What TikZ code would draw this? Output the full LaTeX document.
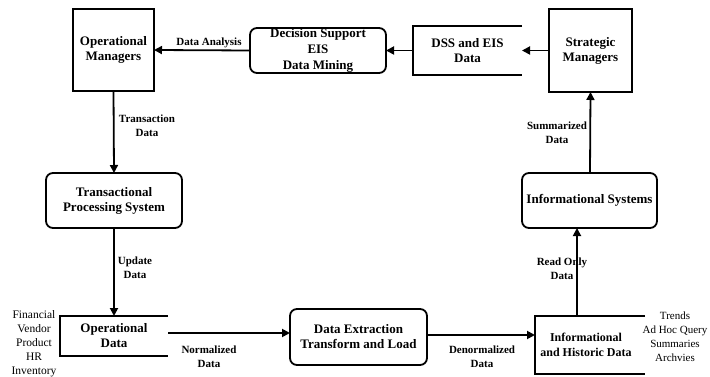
\documentclass[tikz,border=0pt]{standalone}
\usepackage{fontspec}
\setmainfont{Liberation Serif}
\usetikzlibrary{arrows.meta}
\begin{document}
\begin{tikzpicture}[x=1pt,y=-1pt,
  every node/.style={inner sep=0pt,outer sep=0pt,align=center},
  boxtext/.style={font=\fontsize{13}{15}\selectfont\bfseries},
  sqbox/.style={boxtext,draw,line width=1.8pt,rectangle},
  rbox/.style={boxtext,draw,line width=1.8pt,rectangle,rounded corners=7pt},
  openbox/.style={boxtext,rectangle},
  openline/.style={line width=1.8pt},
  lbl/.style={font=\fontsize{11}{14}\selectfont\bfseries},
  side/.style={font=\fontsize{11.5}{14}\selectfont},
  arr/.style={line width=1.8pt,-{Triangle[length=8pt,width=8pt]}}]
\useasboundingbox (0,0) rectangle (710,377);
\fill[white] (0,0) rectangle (710,377);

\node[sqbox,minimum width=81pt,minimum height=82pt] (opmgr) at (113.5,50) {Operational\\Managers};
\node[rbox,minimum width=136pt,minimum height=45pt] (dsup) at (318,50.5) {Decision Support\\[1pt]EIS\\[1pt]Data Mining};
\node[openbox,minimum width=109pt,minimum height=49pt] (dss) at (467.5,50.5) {DSS and EIS\\Data};
\draw[openline] (dss.north east) -- (dss.north west) -- (dss.south west) -- (dss.south east);
\node[sqbox,minimum width=83pt,minimum height=83pt] (strat) at (590.5,50.5) {Strategic\\Managers};

\node[rbox,minimum width=136pt,minimum height=55pt] (tps) at (114,200.5) {Transactional\\Processing System};
\node[rbox,minimum width=135pt,minimum height=55pt] (infosys) at (589.5,200.5) {Informational Systems};

\node[openbox,minimum width=108pt,minimum height=40pt] (opdata) at (114,336) {Operational\\Data};
\draw[openline] (opdata.north east) -- (opdata.north west) -- (opdata.south west) -- (opdata.south east);
\node[rbox,minimum width=137pt,minimum height=56pt] (dx) at (358.5,337) {Data Extraction\\Transform and Load};
\node[openbox,font=\fontsize{12}{15}\selectfont\bfseries,minimum width=110pt,minimum height=58pt] (infodata) at (590,345) {\hspace*{-8pt}Informational\\\hspace*{-8pt}and Historic Data};
\draw[openline] (infodata.north east) -- (infodata.north west) -- (infodata.south west) -- (infodata.south east);

\node[side] (leftlist) at (34,344) {Financial\\Vendor\\Product\\HR\\Inventory};
\node[side,font=\fontsize{11}{14}\selectfont] (rightlist) at (675,337) {Trends\\Ad Hoc Query\\Summaries\\Archvies};

% connectors
\coordinate (ojoin) at ([yshift=3pt]opdata.east);
\coordinate (djoin) at ([yshift=2pt]dx.east);
\draw[arr] (dsup.west) -- (opmgr.east);
\draw[arr] (dss.west) -- (dsup.east);
\draw[arr] (strat.west) -- (dss.east);
\draw[arr] (opmgr.south) -- (tps.north);
\draw[arr] (tps.south) -- (opdata.north);
\draw[arr] (ojoin) -- (ojoin -| dx.west);
\draw[arr] (djoin) -- (djoin -| infodata.west);
\draw[arr] ([xshift=-13pt]infodata.north) -- ([xshift=-12.5pt]infosys.south);
\draw[arr] ([xshift=0.5pt]infosys.north) -- (strat.south);

% labels
\node[lbl] (l1) at (209,43) {Data Analysis};
\node[lbl] (l2) at (147,126) {Transaction\\Data};
\node[lbl] (l3) at (135,268) {Update\\Data};
\node[lbl] (l4) at (209,357) {Normalized\\Data};
\node[lbl] (l5) at (482,357) {Denormalized\\Data};
\node[lbl] (l6) at (562,269) {Read Only\\Data};
\node[lbl] (l7) at (557,133) {Summarized\\Data};
\end{tikzpicture}
\end{document}
